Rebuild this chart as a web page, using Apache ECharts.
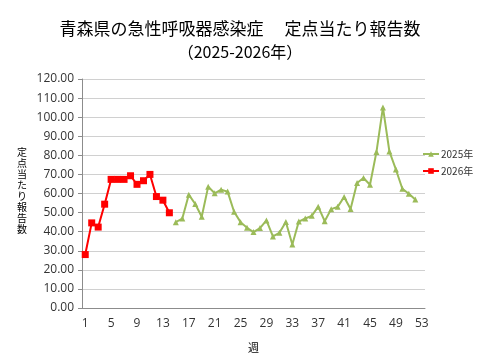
<!DOCTYPE html>
<html><head><meta charset="utf-8">
<script src="https://cdn.jsdelivr.net/npm/echarts@6/dist/echarts.min.js"></script>
<style>html,body{margin:0;padding:0;background:#fff}#c{width:480px;height:360px}</style>
</head><body><div id="c"></div>
<script>
const weeks = Array.from({length:53},(_,i)=>String(i+1));
const s2025Weeks = [15,16,17,18,19,20,21,22,23,24,25,26,27,28,29,30,31,32,33,34,35,36,37,38,39,40,41,42,43,44,45,46,47,48,49,50,51,52];
const s2025Values = [45.0,46.9,59.4,54.5,47.8,63.6,60.1,62.0,61.0,50.4,45.0,42.0,39.8,41.9,45.9,37.5,39.4,45.1,33.3,45.3,46.9,48.3,53.1,45.5,51.8,53.0,58.2,51.9,65.5,68.1,64.6,81.8,105.1,82.0,72.6,62.5,59.9,56.8];
const s2026Weeks = [1,2,3,4,5,6,7,8,9,10,11,12,13,14];
const s2026Values = [28.0,44.6,42.4,54.4,67.4,67.4,67.4,69.3,64.8,66.7,70.0,58.4,56.5,49.9];

const toPairs = (w,v)=>w.map((x,i)=>[String(x),v[i]]);
const jp = '"Noto Sans CJK JP", sans-serif';
const num = '"Open Sans", "Noto Sans", sans-serif';

const chart = echarts.init(document.getElementById('c'), null, {renderer:'canvas'});
chart.setOption({
  animation:false,
  title:[
    {text:'青森県の急性呼吸器感染症　 定点当たり報告数', left:'center', top:15,
     textStyle:{fontFamily:jp, fontSize:17, fontWeight:'normal', color:'#000'}},
    {text:'（2025-2026年）', left:'center', top:39,
     textStyle:{fontFamily:jp, fontSize:16, fontWeight:'normal', color:'#000'}}
  ],
  grid:{left:82, right:55, top:79, bottom:52},
  legend:{orient:'vertical', left:422, top:149, itemGap:7, itemWidth:16, itemHeight:7,
    padding:0, width:60,
    textStyle:{fontFamily:jp, fontSize:10, color:'#333', padding:[0,0,0,-3]},
    data:['2025年','2026年']},
  xAxis:{type:'category', data:weeks, boundaryGap:true,
    name:'週', nameLocation:'middle', nameGap:34,
    nameTextStyle:{fontFamily:jp, fontSize:11, color:'#000'},
    axisLine:{lineStyle:{color:'#8c8c8c'}},
    axisTick:{interval:3, lineStyle:{color:'#8c8c8c'}, length:5},
    axisLabel:{interval:3, fontFamily:num, fontSize:12, color:'#333', margin:10}},
  yAxis:{type:'value', min:0, max:120, interval:10,
    axisLine:{show:true, lineStyle:{color:'#8c8c8c'}},
    axisTick:{show:true, length:4, lineStyle:{color:'#8c8c8c'}},
    axisLabel:{formatter:v=>v.toFixed(2), fontFamily:num, fontSize:12, color:'#333', margin:8},
    splitLine:{lineStyle:{color:'#d0d0d0'}}},
  graphic:[{type:'text', left:17, top:147,
    style:{text:'定\n点\n当\nた\nり\n報\n告\n数', font:'10px "Noto Sans CJK JP"', fill:'#000', lineHeight:11}}],
  series:[
    {name:'2025年', type:'line', data:toPairs(s2025Weeks,s2025Values),
     symbol:'triangle', symbolSize:6, showAllSymbol:true,
     lineStyle:{color:'#9BBB59', width:2}, itemStyle:{color:'#9BBB59'}},
    {name:'2026年', type:'line', data:toPairs(s2026Weeks,s2026Values),
     symbol:'rect', symbolSize:7, showAllSymbol:true,
     lineStyle:{color:'#FF0000', width:2}, itemStyle:{color:'#FF0000'}}
  ]
});
</script></body></html>
